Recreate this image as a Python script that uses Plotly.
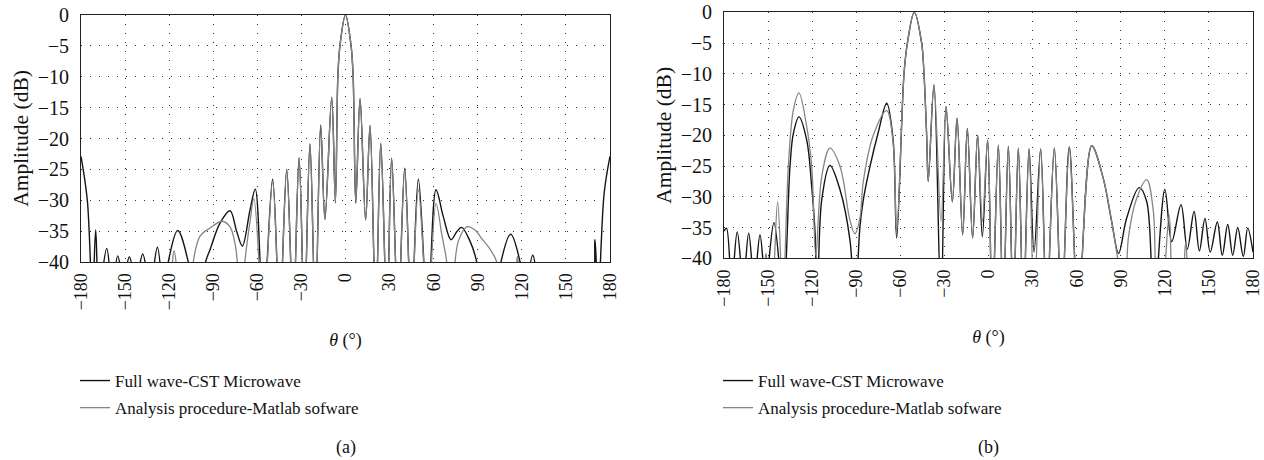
import plotly.graph_objects as go

# ---------------- data ----------------
X_TICKS = [-180, -150, -120, -90, -60, -30, 0, 30, 60, 90, 120, 150, 180]
X_TICK_TEXT = ["\u2212180", "\u2212150", "\u2212120", "\u221290", "\u221260", "\u221230",
               "0", "30", "60", "90", "120", "150", "180"]
Y_TICKS = [0, -5, -10, -15, -20, -25, -30, -35, -40]
Y_TICK_TEXT = ["0", "\u22125", "\u221210", "\u221215", "\u221220", "\u221225",
               "\u221230", "\u221235", "\u221240"]

SERIES_NAMES = ["Full wave-CST Microwave", "Analysis procedure-Matlab sofware"]
PANEL_LABELS = ["(a)", "(b)"]

# Panel (a) - full wave CST
THETA_A_CST = [-180, -175.7, -172.2, -170, -167.8, -162.5, -158.8, -155, -151.2, -147.1,
               -142.6, -138, -133, -128, -123.5, -120.6, -114.2, -107, -101, -95.2,
               -92.2, -85.4, -78.6, -74, -70.2, -65, -61.4, -56, -49.6, -44.8,
               -40, -35.6, -31.6, -28, -24.2, -20.5, -16.9, -14, -9.4, -6.9,
               -5.2, -3.8, 0, 3.8, 5.2, 7.0, 9.9, 13.7, 16.7, 20.6,
               24, 28.2, 31.4, 35.8, 40.3, 44.8, 49.6, 56, 61.6, 66.6,
               71.8, 75.7, 79, 84.5, 89.3, 94, 101, 105.8, 112.4, 118.8,
               121.7, 127.4, 133, 150, 167.6, 169.8, 171.9, 176, 180]
AMP_A_CST = [-22.9, -30, -46, -34.8, -45, -37.8, -44, -39, -43, -39.2,
             -43, -38.7, -44, -37.6, -46, -40, -34.9, -40, -50, -40,
             -38, -33.7, -31.7, -35.1, -37.4, -31.6, -28.2, -48, -26.6, -48,
             -25, -48, -23.1, -48, -20.9, -48, -17.8, -33.1, -13.3, -30.4,
             -10, -5, 0, -5, -10, -30.5, -13.5, -33.2, -17.9, -48,
             -20.8, -48, -23.2, -48, -24.8, -48, -26.6, -48, -28.3, -32.7,
             -36.4, -35.1, -34.4, -36.5, -40, -50, -50, -40, -35.5, -40,
             -46, -38.9, -46, -55, -46, -36.4, -46, -28.9, -22.9]

# Panel (a) - analysis procedure (Matlab)
THETA_A_MAT = [-180, -150, -120.5, -116.7, -113, -106, -103.6, -99, -92.2, -84,
               -78.6, -75.2, -73.6, -71, -68.5, -65, -62.3, -56, -49.6, -44.8,
               -40, -35.6, -31.6, -28, -24.2, -20.5, -16.9, -14, -9.4, -6.9,
               -5.2, -3.8, 0, 3.8, 5.2, 7.0, 9.9, 13.7, 16.7, 20.6,
               24, 28.2, 31.4, 35.8, 40.3, 44.8, 49.6, 56, 61.6, 65.5,
               68.9, 71.5, 74.5, 77, 82.5, 88, 93, 98, 102.9, 106,
               114.8, 117, 119.2, 140, 180]
AMP_A_MAT = [-55, -55, -44, -38.2, -44, -48, -40, -35.8, -34.5, -33.4,
             -34.3, -37, -40, -48, -40, -33.5, -29.7, -48, -27.0, -48,
             -25.2, -48, -23.2, -48, -21, -48, -17.9, -33.1, -13.3, -30.4,
             -10, -5, 0, -5, -10, -30.5, -13.5, -33.2, -17.9, -48,
             -20.8, -48, -23.3, -48, -25.2, -48, -28.3, -48, -30.5, -35.5,
             -40, -48, -40, -36.5, -34.3, -34.8, -36.3, -37.8, -40, -48,
             -44, -39.1, -44, -55, -55]

# Panel (b) - full wave CST
THETA_B_CST = [-180, -178.3, -174.8, -171, -166.9, -163.2, -159.4, -155.5, -151.6, -146,
               -139.8, -135.1, -132.8, -129, -123.7, -120.3, -118, -116.5, -113.5, -107.9,
               -101, -94.3, -90.9, -87.5, -85.2, -80.6, -75, -69.3, -65, -62.5,
               -57.5, -55.2, -50.5, -45.5, -43.9, -42.1, -41, -37.1, -32.3, -28.9,
               -24.6, -21.4, -17.6, -14.4, -10.8, -7.4, -4.2, -0.6, 2.6, 6.7,
               10, 13.5, 16.9, 20.3, 23.7, 27.6, 31, 35.5, 39.6, 44.8,
               49.8, 55, 61.1, 70.2, 78.1, 83.8, 88.5, 94, 102.5, 107.7,
               112.4, 120, 124.7, 131, 135.3, 139.9, 143.5, 147.3, 150.9, 155.7,
               159.1, 162.8, 166.2, 169.6, 173.4, 176.4, 180]
AMP_B_CST = [-35.6, -35.1, -44, -35.7, -44, -35.9, -44, -36.2, -44, -34.2,
             -46, -25.1, -19.7, -17, -20.8, -28.4, -36, -48, -30.5, -24.9,
             -28.9, -37, -48, -34.9, -30.5, -25, -19.5, -14.8, -20.5, -36.7,
             -10, -5, 0, -5, -10, -20, -27.5, -11.8, -48, -15.3,
             -30.8, -17.2, -36.2, -18.9, -36.7, -20, -36.5, -20.8, -48, -21.6,
             -48, -21.8, -48, -22.1, -48, -22.2, -39, -22.2, -48, -22.1,
             -48, -21.9, -48, -21.7, -27, -34, -39.2, -33.5, -28.5, -30.8,
             -48, -28.8, -37.3, -31.3, -38.5, -32.4, -38.8, -33.5, -39, -34.1,
             -39.5, -34.5, -39.5, -35, -39.7, -35.1, -39]

# Panel (b) - analysis procedure (Matlab)
THETA_B_MAT = [-180, -160, -153.2, -151.4, -149.6, -147.5, -143.5, -140, -136.2, -132.8,
               -129, -123.7, -120.3, -117.5, -113.5, -107.9, -101, -94.3, -90.9, -87.5,
               -85.2, -78.4, -69.3, -65, -62.5, -57.5, -55.2, -50.5, -45.5, -43.9,
               -42.1, -41, -37.1, -32.3, -28.9, -24.6, -21.4, -17.6, -14.4, -10.8,
               -7.4, -4.2, -0.6, 2.6, 6.7, 10, 13.5, 16.9, 20.3, 23.7,
               27.6, 31, 35.5, 39.6, 44.8, 49.8, 55, 61.1, 70.2, 78.1,
               83.8, 88.5, 92.8, 95.2, 100.9, 107.7, 112.2, 115, 118.2, 123,
               126.5, 131.6, 134.2, 136.6, 150, 180]
AMP_B_MAT = [-55, -55, -44, -39.2, -44, -46, -30.8, -46, -25, -15.9,
             -13.1, -18.6, -25.1, -39.5, -26.7, -22.1, -25.1, -33.8, -36, -33.5,
             -27.5, -20, -16, -21, -35.5, -10, -5, 0, -5, -10,
             -20, -27.5, -11.8, -34, -15.3, -30.8, -17.2, -36.2, -18.9, -36.7,
             -20, -34, -20.8, -48, -21.6, -48, -21.8, -48, -22.1, -48,
             -22.2, -48, -22.2, -48, -22.1, -48, -21.9, -48, -21.7, -27,
             -34, -41, -48, -36.7, -30.2, -27.2, -32.4, -48, -46, -33,
             -46, -44, -37.5, -44, -55, -55]

# ---------------- styling / layout ----------------
W, H = 1264, 460
FONT = "Liberation Serif"
BLACK = "#141414"
GRAY = "#858585"
AXC = "#222222"


def fx(px):
    return px / W


def fy(px):
    return 1 - px / H


PANELS = [
    dict(x0=81, x1=610, y0=15, y1=262, xa="x", ya="y", leg="legend"),
    dict(x0=724, x1=1253, y0=12.3, y1=258.3, xa="x2", ya="y2", leg="legend2"),
]

DATA = [
    (THETA_A_CST, AMP_A_CST, THETA_A_MAT, AMP_A_MAT),
    (THETA_B_CST, AMP_B_CST, THETA_B_MAT, AMP_B_MAT),
]

fig = go.Figure()
for i, (p, d) in enumerate(zip(PANELS, DATA)):
    for j, (tx, ty, col, wd) in enumerate([(d[0], d[1], BLACK, 1.4), (d[2], d[3], GRAY, 1.3)]):
        fig.add_trace(go.Scatter(
            x=tx, y=ty, mode="lines", name=SERIES_NAMES[j],
            line=dict(color=col, width=wd, shape="spline", smoothing=1.0),
            xaxis=p["xa"], yaxis=p["ya"], legend=p["leg"],
            legendgroup=f"g{i}{j}", showlegend=True,
        ))

axis_common = dict(
    showline=True, linecolor=AXC, linewidth=1, mirror=True,
    showgrid=True, gridcolor="#333333", gridwidth=1, griddash="1px,8px",
    zeroline=False, ticks="",
)

layout = dict(
    width=W, height=H, paper_bgcolor="white", plot_bgcolor="white",
    margin=dict(l=0, r=0, t=0, b=0),
    font=dict(family=FONT, size=17, color="#111"),
    showlegend=True,
)

for i, p in enumerate(PANELS):
    sfx = "" if i == 0 else "2"
    layout["xaxis" + sfx] = dict(
        axis_common, domain=[fx(p["x0"]), fx(p["x1"])], anchor="y" + sfx,
        range=[-180, 180], tickmode="array", tickvals=X_TICKS, ticktext=X_TICK_TEXT,
        tickangle=-90, ticklabelstandoff=3, automargin=False,
        tickfont=dict(family=FONT, size=18, color="#111"),
        title=dict(text="<i>\u03b8</i> (\u00b0)", font=dict(family=FONT, size=18), standoff=24),
    )
    layout["yaxis" + sfx] = dict(
        axis_common, domain=[fy(p["y1"]), fy(p["y0"])], anchor="x" + sfx,
        range=[-40, 0], tickmode="array", tickvals=Y_TICKS, ticktext=Y_TICK_TEXT,
        ticklabelstandoff=7, automargin=False,
        tickfont=dict(family=FONT, size=20, color="#111"),
        title=dict(text="Amplitude (dB)", font=dict(family=FONT, size=21.5), standoff=3),
    )
    layout[p["leg"]] = dict(
        x=fx(p["x0"] - 6), y=fy(363), xanchor="left", yanchor="top",
        bgcolor="rgba(0,0,0,0)", borderwidth=0, tracegroupgap=2,
        font=dict(family=FONT, size=17, color="#111"),
        itemclick=False, itemdoubleclick=False,
    )

fig.update_layout(**layout)

for i, p in enumerate(PANELS):
    fig.add_annotation(
        x=fx((p["x0"] + p["x1"]) / 2), y=fy(447), xref="paper", yref="paper",
        text=PANEL_LABELS[i], showarrow=False, xanchor="center", yanchor="middle",
        font=dict(family=FONT, size=18, color="#111"),
    )

fig.write_html("out.html", config={"displayModeBar": False},
               post_script="document.body.style.margin='0px';")
